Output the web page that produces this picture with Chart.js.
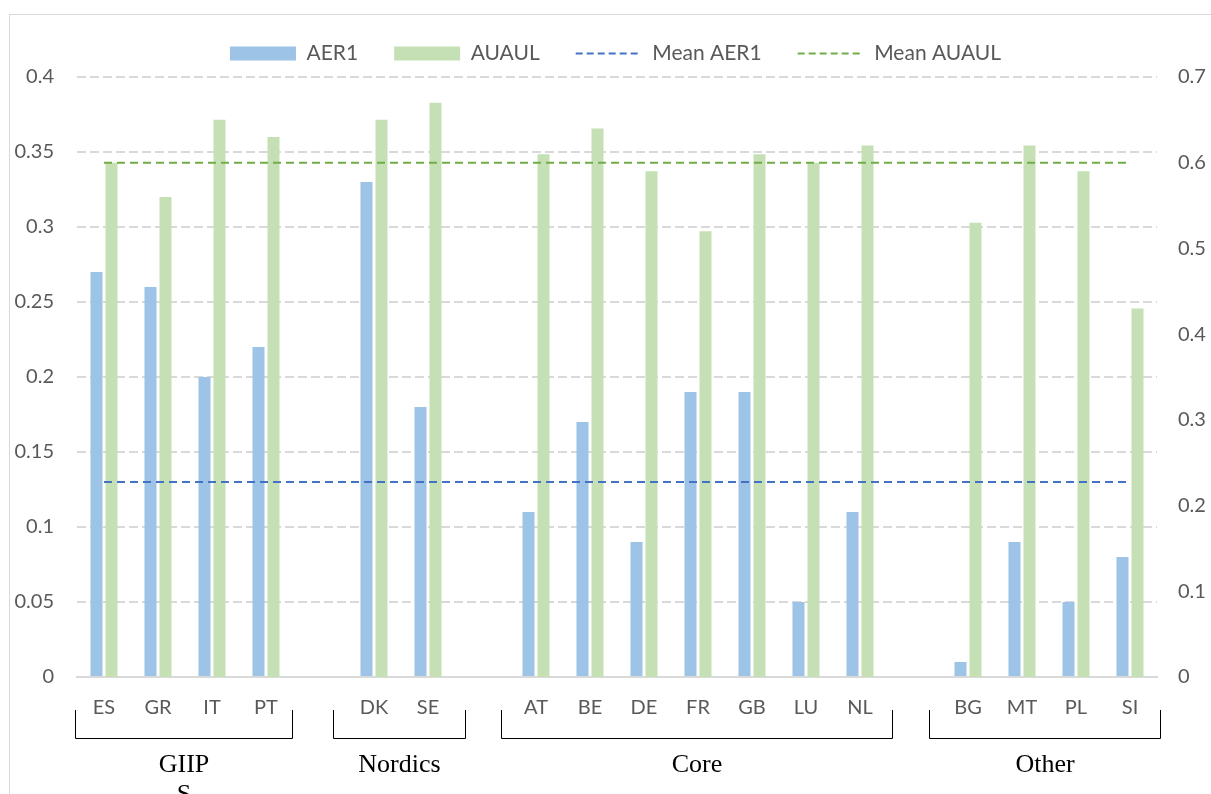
<html lang="en">
<head>
  <meta charset="utf-8" />
  <title>AER1 and AUAUL by country</title>
  <style>
    * { margin: 0; padding: 0; box-sizing: border-box; }
    body { width: 1211px; height: 794px; background: #ffffff; overflow: hidden; }
    .wrapper { position: relative; width: 1211px; height: 794px; }
  </style>
</head>
<body>
  <div class="wrapper">
    <canvas id="chart" width="1211" height="794"></canvas>
  </div>
  <script src="https://cdn.jsdelivr.net/npm/chart.js@4.4.1/dist/chart.umd.min.js"></script>
  <script>
    // categories (empty strings are the gaps between country groups)
    const countries = ["ES", "GR", "IT", "PT", "", "DK", "SE", "", "AT", "BE", "DE", "FR", "GB", "LU", "NL", "", "BG", "MT", "PL", "SI"];
    const aer1 = [0.27, 0.26, 0.20, 0.22, null, 0.33, 0.18, null, 0.11, 0.17, 0.09, 0.19, 0.19, 0.05, 0.11, null, 0.01, 0.09, 0.05, 0.08];
    const auaul = [0.60, 0.56, 0.65, 0.63, null, 0.65, 0.67, null, 0.61, 0.64, 0.59, 0.52, 0.61, 0.60, 0.62, null, 0.53, 0.62, 0.59, 0.43];
    const meanAer1 = 0.13;
    const meanAuaul = 0.60;

    // country groups shown under the axis
    const groupNames = [["GIIP", "S"], ["Nordics"], ["Core"], ["Other"]];
    const groupFirst = [0, 5, 8, 16];
    const groupLast = [3, 6, 14, 19];
    const bracketLeftPad = [29, 41, 35, 39];
    const bracketRightPad = [26, 37, 32, 30];

    const textGray = "#595959";
    const gridGray = "#d9d9d9";
    const topPad = 7;
    const plotTop = 77;

    const frame = {
      id: "frame",
      beforeDraw(chart) {
        const ctx = chart.ctx;
        ctx.save();
        ctx.strokeStyle = gridGray;
        ctx.lineWidth = 1;
        ctx.strokeRect(9.5, 14.5, chart.width + 20, chart.height + 20);
        ctx.restore();
      }
    };

    // make the legend box end where the plot starts, and nudge it right a bit
    const legendSpace = {
      id: "legendSpace",
      beforeInit(chart) {
        const fit = chart.legend.fit;
        chart.legend.fit = function () {
          fit.call(this);
          this.height = plotTop - topPad;
        };
      },
      afterLayout(chart) {
        chart.legend.left += 10;
        chart.legend.right += 10;
      }
    };

    const groupBrackets = {
      id: "groupBrackets",
      afterDraw(chart) {
        const ctx = chart.ctx;
        const x = chart.scales.x;
        const base = chart.chartArea.bottom;
        const top = base + 33;
        const bottom = base + 61;
        ctx.save();
        ctx.strokeStyle = "#000000";
        ctx.lineWidth = 1;
        ctx.fillStyle = "#000000";
        ctx.font = "26px 'Liberation Serif', 'Times New Roman', serif";
        ctx.textAlign = "center";
        ctx.textBaseline = "alphabetic";
        groupNames.forEach((lines, i) => {
          const l = Math.round(x.getPixelForValue(groupFirst[i]) - bracketLeftPad[i]) + 0.5;
          const r = Math.round(x.getPixelForValue(groupLast[i]) + bracketRightPad[i]) + 0.5;
          ctx.beginPath();
          ctx.moveTo(l, top);
          ctx.lineTo(l, bottom + 0.5);
          ctx.lineTo(r, bottom + 0.5);
          ctx.lineTo(r, top);
          ctx.stroke();
          lines.forEach((t, j) => {
            ctx.fillText(t, (l + r) / 2, bottom + 34 + j * 30);
          });
        });
        ctx.restore();
      }
    };

    new Chart(document.getElementById("chart"), {
      data: {
        labels: countries,
        datasets: [
          {
            type: "bar",
            label: "AER1",
            data: aer1,
            yAxisID: "y",
            backgroundColor: "#9dc3e6",
            categoryPercentage: 0.556,
            barPercentage: 0.8,
            order: 1
          },
          {
            type: "bar",
            label: "AUAUL",
            data: auaul,
            yAxisID: "y2",
            backgroundColor: "#c5e0b4",
            categoryPercentage: 0.556,
            barPercentage: 0.8,
            order: 1
          },
          {
            type: "line",
            label: "Mean AER1",
            data: countries.map(() => meanAer1),
            yAxisID: "y",
            borderColor: "#4472c4",
            backgroundColor: "#4472c4",
            borderWidth: 2,
            borderDash: [8, 5],
            pointRadius: 0,
            order: 0
          },
          {
            type: "line",
            label: "Mean AUAUL",
            data: countries.map(() => meanAuaul),
            yAxisID: "y2",
            borderColor: "#70ad47",
            backgroundColor: "#70ad47",
            borderWidth: 2,
            borderDash: [8, 5],
            pointRadius: 0,
            order: 0
          }
        ]
      },
      plugins: [frame, legendSpace, groupBrackets],
      options: {
        responsive: false,
        animation: false,
        layout: { padding: { top: topPad, left: 0, right: 0, bottom: 0 } },
        plugins: {
          tooltip: { enabled: false },
          legend: {
            position: "top",
            labels: {
              color: textGray,
              font: { family: "Lato", size: 21 },
              usePointStyle: true,
              pointStyleWidth: 66,
              boxHeight: 14,
              padding: 36,
              sort: (a, b) => a.datasetIndex - b.datasetIndex,
              generateLabels(chart) {
                return chart.data.datasets.map((ds, i) => {
                  const isLine = ds.type === "line";
                  return {
                    text: ds.label,
                    datasetIndex: i,
                    fillStyle: ds.backgroundColor,
                    strokeStyle: isLine ? ds.borderColor : ds.backgroundColor,
                    lineWidth: isLine ? 2 : 0,
                    lineDash: isLine ? [7, 4] : [],
                    pointStyle: isLine ? "line" : "rect",
                    fontColor: textGray,
                    hidden: false
                  };
                });
              }
            }
          }
        },
        scales: {
          x: {
            grid: { display: false, drawTicks: false },
            border: { display: true, color: gridGray, width: 2 },
            ticks: {
              color: textGray,
              font: { family: "Lato", size: 20 },
              padding: 19,
              maxRotation: 0,
              autoSkip: false
            },
            afterFit(scale) { scale.height = 117; }
          },
          y: {
            position: "left",
            min: 0,
            max: 0.4,
            border: { display: false, dash: [9, 4] },
            grid: { color: gridGray, lineWidth: 2, drawTicks: false },
            ticks: {
              stepSize: 0.05,
              color: textGray,
              font: { family: "Lato", size: 20 },
              padding: 23,
              callback: (v) => +v.toFixed(2)
            },
            afterFit(scale) { scale.width = 77; }
          },
          y2: {
            position: "right",
            min: 0,
            max: 0.7,
            border: { display: false },
            grid: { display: false, drawTicks: false },
            ticks: {
              stepSize: 0.1,
              color: textGray,
              font: { family: "Lato", size: 20 },
              padding: 21,
              callback: (v) => +v.toFixed(1)
            },
            afterFit(scale) { scale.width = 54; }
          }
        }
      }
    });
  </script>
</body>
</html>
